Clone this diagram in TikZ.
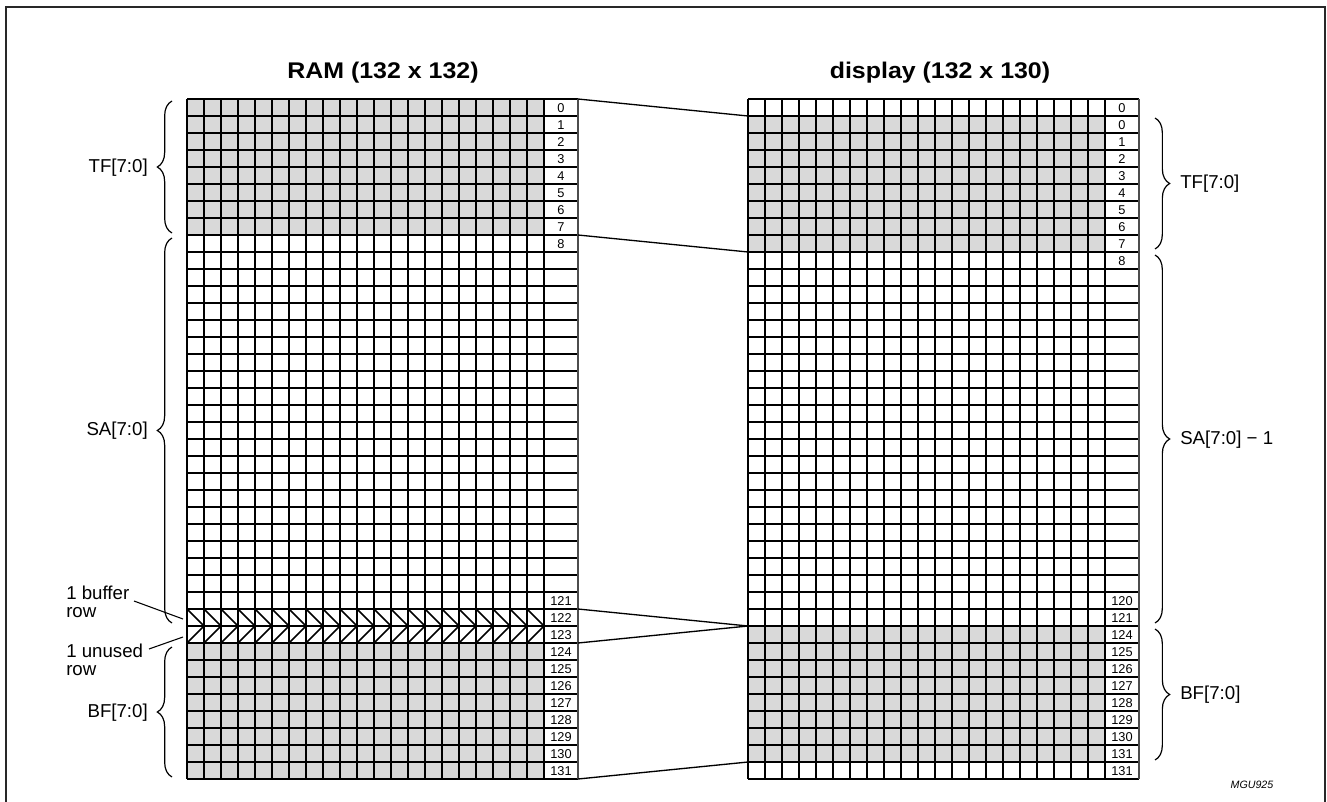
\documentclass[tikz,border=0pt]{standalone}
\usepackage{fontspec}
\setmainfont{Liberation Sans}
\newfontfamily\titlefont{Liberation Sans}[FakeStretch=1.1]
\usetikzlibrary{decorations.pathreplacing}
\definecolor{cellgray}{RGB}{217,217,217}
\definecolor{framegray}{RGB}{40,40,40}
\tikzset{
  gridline/.style={line width=1.4pt, black},
  numlabel/.style={font=\fontsize{9.6pt}{10pt}\selectfont, inner sep=0pt},
  sidelabel/.style={font=\fontsize{14pt}{13.5pt}\selectfont, inner sep=0pt},
  titlelabel/.style={font=\titlefont\bfseries\fontsize{17pt}{20pt}\selectfont, inner sep=0pt},
  connector/.style={line width=1pt, black},
  bracedeco/.style={line width=0.9pt, decorate, decoration={brace, amplitude=11pt}},
  hatchline/.style={line width=1.1pt, black}
}
\begin{document}
\begin{tikzpicture}[x=0.75pt,y=-0.75pt]
\useasboundingbox (0,0) rectangle (1327,802);
% frame
\draw[line width=1.6pt, framegray] (6,802) -- (6,7) -- (1325,7) -- (1325,802);
% titles
\node[titlelabel] (t1) at (383,73) {RAM (132 x 132)};
\node[titlelabel] (t2) at (940,73) {display (132 x 130)};
% ---------- left grid ----------
\fill[cellgray] (187,99) rectangle (544,235);
\fill[cellgray] (187,643) rectangle (544,779);
\foreach \c in {0,...,20} {
  \draw[hatchline] (187+17*\c,609) -- (204+17*\c,626);
  \draw[hatchline] (187+17*\c,643) -- (204+17*\c,626);
}
\foreach \i in {0,...,40} \draw[gridline] (187,99+17*\i) -- (578,99+17*\i);
\foreach \c in {0,...,21} \draw[gridline] (187+17*\c,99) -- (187+17*\c,779);
\draw[line width=1pt, black!70] (578,99) -- (578,779);
% left labels
\foreach \r/\t in {0/0,1/1,2/2,3/3,4/4,5/5,6/6,7/7,8/8,29/121,30/122,31/123,32/124,33/125,34/126,35/127,36/128,37/129,38/130,39/131}
  \node[numlabel] (L\r) at (561,99+17*\r+9.5) {\t};
% ---------- right grid ----------
\fill[cellgray] (748,116) rectangle (1105,252);
\fill[cellgray] (748,626) rectangle (1105,762);
\foreach \i in {0,...,40} \draw[gridline] (748,99+17*\i) -- (1139,99+17*\i);
\foreach \c in {0,...,21} \draw[gridline] (748+17*\c,99) -- (748+17*\c,779);
\draw[line width=1pt, black!70] (1139,99) -- (1139,779);
\foreach \r/\t in {0/0,1/0,2/1,3/2,4/3,5/4,6/5,7/6,8/7,9/8,29/120,30/121,31/124,32/125,33/126,34/127,35/128,36/129,37/130,38/131,39/131}
  \node[numlabel] (R\r) at (1122,99+17*\r+9.5) {\t};
% ---------- connectors ----------
\coordinate (la) at (578,99);  \coordinate (ra) at (748,116);
\coordinate (lb) at (578,235); \coordinate (rb) at (748,252);
\coordinate (lc) at (578,609); \coordinate (rc) at (748,626);
\coordinate (ld) at (578,643);
\coordinate (le) at (578,779); \coordinate (re) at (748,762);
\draw[connector] (la) -- (ra);
\draw[connector] (lb) -- (rb);
\draw[connector] (lc) -- (rc);
\draw[connector] (ld) -- (rc);
\draw[connector] (le) -- (re);
% ---------- left braces ----------
\draw[bracedeco] (172,233) -- (172,101);
\draw[bracedeco] (172,623) -- (172,238);
\draw[bracedeco] (172,777) -- (172,647);
\node[sidelabel, anchor=east] (tfl) at (148,168) {TF[7:0]};
\node[sidelabel, anchor=east] (sal) at (148,431) {SA[7:0]};
\node[sidelabel, anchor=east] (bfl) at (148,713) {BF[7:0]};
\node[sidelabel, anchor=north west, align=left] (buf) at (66,586) {1 buffer\\row};
\node[sidelabel, anchor=north west, align=left] (unu) at (66,644) {1 unused\\row};
\coordinate (bufend) at (183,619);
\coordinate (bufstart) at (134,601);
\coordinate (unuend) at (183,637);
\coordinate (unustart) at (149,649);
\draw[line width=0.8pt] (bufstart) -- (bufend);
\draw[line width=0.8pt] (unustart) -- (unuend);
% ---------- right braces ----------
\draw[bracedeco] (1155,118) -- (1155,249);
\draw[bracedeco] (1155,255) -- (1155,623);
\draw[bracedeco] (1155,629) -- (1155,760);
\node[sidelabel, anchor=west] (tfr) at (1180,184) {TF[7:0]};
\node[sidelabel, anchor=west] (sar) at (1180,440) {SA[7:0] \textminus\ 1};
\node[sidelabel, anchor=west] (bfr) at (1180,695) {BF[7:0]};
% figure code
\node[font=\itshape\fontsize{8pt}{9pt}\selectfont, inner sep=0pt] (code) at (1252,785) {MGU925};
\end{tikzpicture}
\end{document}
